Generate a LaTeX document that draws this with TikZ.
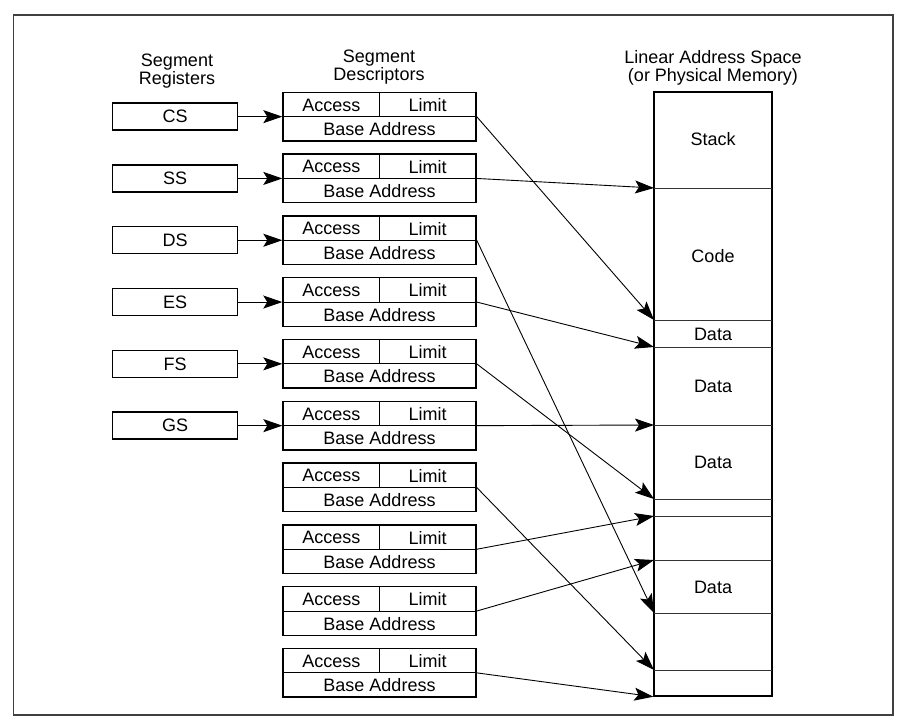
\documentclass[tikz,border=0pt]{standalone}
\usepackage{fontspec}
\setmainfont{Liberation Sans}
\usetikzlibrary{positioning, arrows.meta}

\begin{document}
\begin{tikzpicture}[x=0.5pt, y=-0.5pt,
    every node/.style={font=\fontsize{9}{8.7}\selectfont, align=center, inner sep=0pt},
    reg/.style={draw, line width=0.7pt, minimum width=62.5pt, minimum height=13.5pt},
    desc/.style={draw, line width=0.7pt, minimum width=96.5pt, minimum height=24.3pt},
    ptr/.style={-{Stealth[length=9.5pt, width=6.5pt, inset=2pt]}, line width=0.45pt}]
    % bingkai luar
    \useasboundingbox (0,0) rectangle (903,726);
    \draw[line width=0.7pt, black!75] (13.5,15) rectangle (893,715);

    % judul kolom
    \node (tReg) at (177,71) {Segment\\Registers};
    \node (tDesc) at (379,67) {Segment\\Descriptors};
    \node (tMem) at (713,68) {Linear Address Space\\(or Physical Memory)};

    % jarak antar deskriptor
    \def\d{61.8}

    % deskriptor segmen
    \foreach \i in {1,...,10}{
        \pgfmathsetmacro{\y}{92.3+(\i-1)*\d+24.35}
        \node[desc] (d\i) at (379.5,\y) {};
        % garis dalam
        \draw[line width=0.5pt] (d\i.west) -- (d\i.east);
        \draw[line width=0.5pt] (d\i.north) -- (d\i.center);
        % label
        \node (a\i) at ([xshift=-24.1pt, yshift=5.8pt]d\i.center) {Access};
        \node (l\i) at ([xshift=24.1pt, yshift=5.8pt]d\i.center) {Limit};
        \node (ba\i) at ([yshift=-6.3pt]d\i.center) {Base Address};
      }

    % register segmen
    \foreach \r [count=\i] in {CS,SS,DS,ES,FS,GS}{
        \node[reg, left=22pt of d\i.west] (r\r) {\r};
        \draw[ptr] (r\r) -- (d\i);
      }

    % ruang alamat linear
    \node[draw, line width=0.7pt, minimum width=59pt, minimum height=302pt] (mem) at (713,394) {};
    \coordinate (b0) at (mem.north west);
    \coordinate (b10) at (mem.south west);
    \foreach \b [count=\k] in {188,320,347,425,499,516,560,613,670}{
        \coordinate (b\k) at (654,\b);
        \draw[line width=0.45pt, black!80] (b\k) -- +(118,0);
      }
    \foreach \t/\y [count=\k] in {Stack/139,Code/256,Data/334,Data/386,Data/462,Data/587}{
        \node (s\k) at (713,\y) {\t};
      }

    % panah base address ke memori
    \foreach \i/\k in {1/2,2/1,3/8,4/3,5/5,6/4,7/9,8/6,9/7,10/10}{
        \draw[ptr] (d\i.east) -- (b\k);
      }
  \end{tikzpicture}
\end{document}
